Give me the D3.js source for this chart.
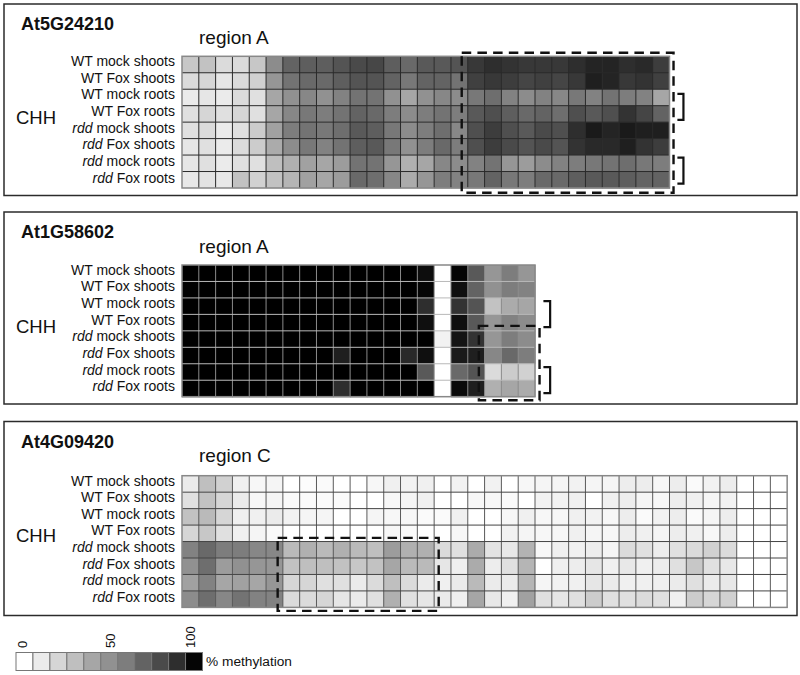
<!DOCTYPE html>
<html>
<head>
<meta charset="utf-8">
<script src="https://cdn.jsdelivr.net/npm/d3@7"></script>
<style>
  html, body { margin: 0; padding: 0; background: #fff; }
  svg { display: block; }
  text { font-family: "Liberation Sans", Arial, sans-serif; fill: #111; }
</style>
</head>
<body>
<div id="chart"></div>
<script>
var rowLabels = ['WT mock shoots', 'WT Fox shoots', 'WT mock roots', 'WT Fox roots',
  'rdd mock shoots', 'rdd Fox shoots', 'rdd mock roots', 'rdd Fox roots'];

// % methylation, one line per row
var valuesAt5G24210 = [
  [22,24,14,14,22,45,61,63,63,67,71,72,63,59,65,65,67,78,82,80,78,78,78,82,86,86,82,84,76],
  [14,16,10,14,18,41,55,59,59,63,67,67,61,53,61,61,55,75,78,76,73,75,73,78,88,86,78,80,75],
  [8,10,8,14,12,35,43,47,43,49,55,55,43,35,43,47,45,53,57,49,45,49,47,53,49,55,51,49,35],
  [12,16,12,16,12,35,47,53,51,55,61,59,51,45,51,55,51,65,69,63,59,61,57,69,65,69,80,73,61],
  [12,14,8,12,20,37,51,55,53,57,65,63,53,45,51,57,47,69,76,69,65,71,69,82,90,86,90,88,88],
  [10,12,8,14,20,33,45,53,49,55,63,65,53,43,51,59,51,69,76,71,67,71,67,80,84,84,88,80,76],
  [10,12,8,12,12,25,31,37,35,39,55,55,41,31,35,47,45,49,55,41,39,45,49,51,53,55,57,53,51],
  [9,11,9,24,18,24,29,37,35,39,59,57,47,33,41,51,49,53,61,53,51,59,59,63,65,65,63,61,61]
];

var valuesAt1G58602 = [
  [100,100,100,100,100,100,100,100,100,100,100,100,100,100,95,0,98,65,41,51,41],
  [100,100,100,100,100,100,100,100,100,100,100,100,100,100,98,0,94,61,43,51,49],
  [100,100,100,100,100,100,100,100,100,100,100,100,100,100,82,0,80,67,24,33,35],
  [100,100,100,100,100,100,100,100,100,100,100,100,100,100,94,0,94,65,41,49,45],
  [100,100,100,100,100,100,100,100,100,100,100,100,100,100,100,5,92,80,41,51,45],
  [100,100,100,100,100,100,100,100,100,88,100,100,100,84,94,0,90,88,47,59,51],
  [100,100,100,100,100,100,100,100,100,100,100,100,100,100,65,0,59,67,14,20,18],
  [100,100,100,100,100,100,100,100,100,82,100,100,100,100,100,0,96,88,31,35,33]
];

var valuesAt4G09420 = [
  [8,25,18,6,3,4,0,1,2,0,0,3,6,5,6,0,5,0,5,0,3,4,4,5,4,4,7,7,3,7,2,5,7,0,0,0],
  [12,24,16,8,3,4,2,2,2,2,0,0,3,4,6,0,0,3,3,2,0,5,5,6,0,6,7,4,3,7,6,4,5,0,0,0],
  [24,27,16,6,6,8,5,4,4,0,0,4,3,3,2,2,6,0,0,3,6,3,3,6,5,3,7,2,5,7,2,4,7,0,0,0],
  [16,22,12,6,4,2,0,0,0,0,0,0,3,2,0,0,3,0,0,5,4,3,3,6,4,3,7,6,4,7,6,3,7,0,0,0],
  [49,59,51,51,47,47,27,31,27,31,27,25,39,31,31,14,12,33,11,9,30,3,6,6,7,4,14,12,7,12,14,18,14,0,0,0],
  [43,57,39,43,41,41,24,25,25,24,22,24,35,27,27,10,6,33,7,12,29,0,6,7,10,6,9,6,7,12,22,12,9,0,0,0],
  [37,49,35,37,35,41,16,16,12,12,8,14,25,14,8,6,8,27,8,8,29,4,5,6,10,8,6,6,6,8,12,8,9,0,0,0],
  [45,57,47,55,49,49,14,14,16,10,8,12,31,12,10,8,6,35,9,6,37,12,10,12,20,12,12,14,12,6,20,16,18,0,0,0]
];

var legendSteps = [0, 8, 16, 25, 35, 43, 51, 61, 71, 82, 98];
var legendTicks = [0, 50, 100];

var panels = [
  { gene: 'At5G24210', region: 'region A', values: valuesAt5G24210, top: 4, bottom: 195.5, gridTop: 56.3,
    gridV: '#2a2a2a', gridH: '#2a2a2a', titleY: 30, regionY: 44, chhY: 124,
    box: [16.64, 29.24, -0.22, 8.29], brackets: [[29.47, 29.83, 2.28, 3.86], [29.47, 29.83, 6.16, 7.73]] },
  { gene: 'At1G58602', region: 'region A', values: valuesAt1G58602, top: 212, bottom: 404, gridTop: 265,
    gridV: '#8a8a8a', gridH: '#b8b8b8', titleY: 238, regionY: 253, chhY: 333,
    box: [17.66, 21.27, 3.7, 8.22], brackets: [[21.5, 21.9, 2.19, 3.77], [21.5, 21.9, 6.2, 7.78]] },
  { gene: 'At4G09420', region: 'region C', values: valuesAt4G09420, top: 421.5, bottom: 615.5, gridTop: 475.7,
    gridV: '#5a5a5a', gridH: '#444', titleY: 448, regionY: 462, chhY: 542,
    box: [5.69, 15.27, 3.78, 8.21], brackets: [] }
];

var width = 800;
var height = 675;
var gridLeft = 182;
var cellW = 16.81;
var cellH = 16.46;

var color = d3.scaleLinear().domain([0, 100]).range(['#ffffff', '#000000']);

var svg = d3.select('#chart').append('svg')
  .attr('width', width)
  .attr('height', height);

function drawPanel(p) {
  var nCols = p.values[0].length;
  var x = d3.scaleLinear().domain([0, nCols]).range([gridLeft, gridLeft + nCols * cellW]);
  var y = d3.scaleLinear().domain([0, 8]).range([p.gridTop, p.gridTop + 8 * cellH]);
  // the labels sit a little tighter to the top than the cells do
  var labelY = d3.scaleLinear().domain([0, 7]).range([p.gridTop + 9.8, p.gridTop + 9.8 + 7 * 16.66]);
  var g = svg.append('g');

  g.append('rect')
    .attr('x', 4).attr('y', p.top)
    .attr('width', 793).attr('height', p.bottom - p.top)
    .attr('fill', 'none').attr('stroke', '#2b2b2b').attr('stroke-width', 1.5);

  g.append('text').attr('x', 21).attr('y', p.titleY)
    .attr('font-size', 18).attr('font-weight', 'bold').text(p.gene);
  g.append('text').attr('x', 199).attr('y', p.regionY)
    .attr('font-size', 19).text(p.region);
  g.append('text').attr('x', 16).attr('y', p.chhY)
    .attr('font-size', 18.5).text('CHH');

  var labels = g.selectAll('.row-label').data(rowLabels).enter().append('text')
    .attr('class', 'row-label')
    .attr('x', 175)
    .attr('y', function (d, i) { return labelY(i); })
    .attr('text-anchor', 'end')
    .attr('font-size', 14);
  labels.each(function (d) {
    var t = d3.select(this);
    if (d.indexOf('rdd') === 0) {
      t.append('tspan').attr('font-style', 'italic').text('rdd');
      t.append('tspan').text(d.slice(3));
    } else {
      t.text(d);
    }
  });

  var rows = g.selectAll('.cell-row').data(p.values).enter().append('g').attr('class', 'cell-row');
  rows.selectAll('rect')
    .data(function (d, r) { return d.map(function (v, c) { return { v: v, c: c, r: r }; }); })
    .enter().append('rect')
    .attr('x', function (d) { return x(d.c); })
    .attr('y', function (d) { return y(d.r); })
    .attr('width', cellW + 0.5)
    .attr('height', cellH + 0.5)
    .attr('fill', function (d) { return color(d.v); });

  g.selectAll('.grid-v').data(d3.range(1, nCols)).enter().append('line')
    .attr('x1', function (d) { return x(d); }).attr('x2', function (d) { return x(d); })
    .attr('y1', y(0)).attr('y2', y(8))
    .attr('stroke', p.gridV).attr('stroke-width', 1);
  g.selectAll('.grid-h').data(d3.range(1, 8)).enter().append('line')
    .attr('x1', x(0)).attr('x2', x(nCols))
    .attr('y1', function (d) { return y(d); }).attr('y2', function (d) { return y(d); })
    .attr('stroke', p.gridH).attr('stroke-width', 1);
  g.append('rect')
    .attr('x', x(0)).attr('y', y(0))
    .attr('width', x(nCols) - x(0)).attr('height', y(8) - y(0))
    .attr('fill', 'none').attr('stroke', '#888').attr('stroke-width', 1.5);

  // dashed highlight
  g.append('rect')
    .attr('x', x(p.box[0])).attr('y', y(p.box[2]))
    .attr('width', x(p.box[1]) - x(p.box[0])).attr('height', y(p.box[3]) - y(p.box[2]))
    .attr('fill', 'none').attr('stroke', '#111').attr('stroke-width', 2.4)
    .attr('stroke-dasharray', '9.5,6.2');

  p.brackets.forEach(function (b) {
    g.append('path')
      .attr('d', 'M' + x(b[0]) + ',' + y(b[2]) + 'H' + x(b[1]) + 'V' + y(b[3]) + 'H' + x(b[0]))
      .attr('fill', 'none').attr('stroke', '#111').attr('stroke-width', 2.2);
  });
}

panels.forEach(drawPanel);

// legend
var legendX = d3.scaleBand().domain(legendSteps).range([16, 202.5]);
var tickX = d3.scaleLinear().domain(legendTicks).range([26.5, 114.5, 194.5]);
var legend = svg.append('g');
legend.selectAll('rect').data(legendSteps).enter().append('rect')
  .attr('x', function (d) { return legendX(d); })
  .attr('y', 652.5)
  .attr('width', legendX.bandwidth())
  .attr('height', 18)
  .attr('fill', function (d) { return color(d); })
  .attr('stroke', '#777')
  .attr('stroke-width', 1);
legend.selectAll('.legend-tick').data(legendTicks).enter().append('text')
  .attr('class', 'legend-tick')
  .attr('transform', function (d) {
    return 'translate(' + tickX(d) + ',648) rotate(-90)';
  })
  .attr('font-size', 13)
  .text(function (d) { return d; });
legend.append('text').attr('x', 206).attr('y', 665.5)
  .attr('font-size', 13.7).text('% methylation');
</script>
</body>
</html>
